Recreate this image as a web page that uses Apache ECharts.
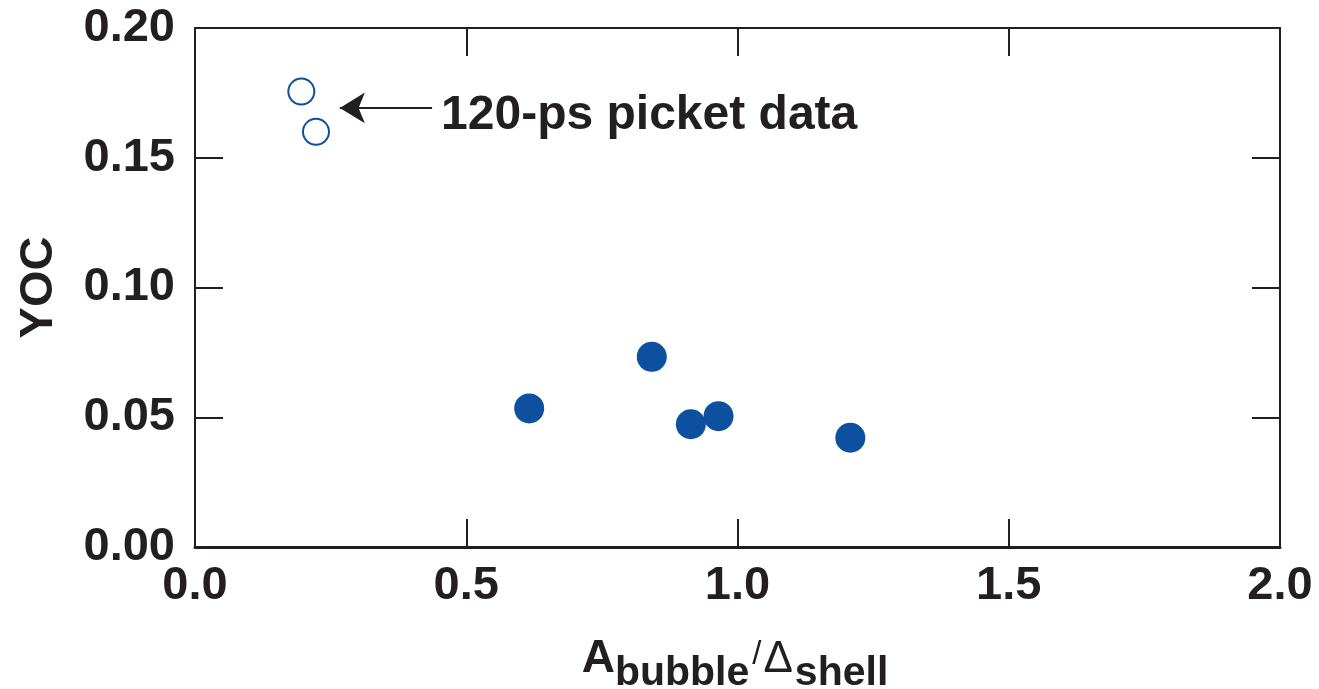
<!DOCTYPE html>
<html>
<head>
<meta charset="utf-8">
<script src="https://cdn.jsdelivr.net/npm/echarts@6/dist/echarts.min.js"></script>
<style>
  html, body { margin: 0; padding: 0; background: #fff; }
  #chart { width: 1319px; height: 689px; }
</style>
</head>
<body>
<div id="chart"></div>
<script>
// Bubble amplitude over shell thickness vs. yield-over-clean
const mainX = [0.616, 0.842, 0.914, 0.965, 1.208];
const mainY = [0.0534, 0.0733, 0.0473, 0.0504, 0.0421];

// 120-ps picket shots
const picketX = [0.196, 0.223];
const picketY = [0.1755, 0.160];

// Annotation arrow (from the text toward the picket points)
const arrowFrom = [0.437, 0.1692];
const arrowTo = [0.267, 0.1692];
const arrowText = '120-ps picket data';

const xTicks = { min: 0, max: 2.0, interval: 0.5 };
const yTicks = { min: 0, max: 0.20, interval: 0.05 };

const INK = '#231f20';
const BLUE = '#0d50a0';
const FONT = '"Liberation Sans", Arial, Helvetica, sans-serif';

const zip = (xs, ys) => xs.map((x, i) => [x, ys[i]]);

const chart = echarts.init(document.getElementById('chart'), null, { renderer: 'canvas' });

const tickStyle = { show: true, inside: true, length: 28, lineStyle: { color: INK, width: 2 } };
const frameLine = { show: true, onZero: false, lineStyle: { color: INK, width: 2 } };

chart.setOption({
  animation: false,
  backgroundColor: '#fff',
  textStyle: { fontFamily: FONT },
  grid: {
    left: 195, right: 39, top: 28, bottom: 142,
    containLabel: false,
    outerBoundsMode: 'none',
    show: false
  },
  xAxis: [
    {
      type: 'value', position: 'bottom',
      min: xTicks.min, max: xTicks.max, interval: xTicks.interval,
      axisLine: { show: true, onZero: false, lineStyle: { color: INK, width: 3 } },
      axisTick: tickStyle,
      splitLine: { show: false },
      axisLabel: {
        margin: 16, color: INK, fontSize: 47, fontWeight: 'bold', fontFamily: FONT,
        formatter: v => v.toFixed(1)
      },
      name: '{a|A}{s|bubble}{l|/}{d|\u0394}{s|shell}',
      nameLocation: 'middle',
      nameGap: 89,
      nameTextStyle: {
        color: INK, fontFamily: FONT, padding: [0, 5, 0, 0],
        rich: {
          a: { fontSize: 46, fontWeight: 'bold', lineHeight: 46, verticalAlign: 'top', color: INK, fontFamily: FONT },
          s: { fontSize: 41, fontWeight: 'bold', lineHeight: 41, verticalAlign: 'top', padding: [17, 0, 0, 0], color: INK, fontFamily: FONT },
          l: { fontSize: 33, fontWeight: 'normal', lineHeight: 33, verticalAlign: 'top', padding: [2, 2, 0, 3], color: INK, fontFamily: FONT },
          d: { fontSize: 44, fontWeight: 'normal', lineHeight: 44, verticalAlign: 'top', padding: [2, 2, 0, 0], color: INK, fontFamily: FONT }
        }
      }
    },
    {
      type: 'value', position: 'top',
      min: xTicks.min, max: xTicks.max, interval: xTicks.interval,
      axisLine: frameLine, axisTick: tickStyle,
      axisLabel: { show: false }, splitLine: { show: false }
    }
  ],
  yAxis: [
    {
      type: 'value', position: 'left',
      min: yTicks.min, max: yTicks.max, interval: yTicks.interval,
      axisLine: frameLine,
      axisTick: tickStyle,
      splitLine: { show: false },
      axisLabel: {
        margin: 20, color: INK, fontSize: 47, fontWeight: 'bold', fontFamily: FONT,
        formatter: v => v.toFixed(2)
      },
      name: 'YOC',
      nameLocation: 'middle',
      nameGap: 132,
      nameTextStyle: { color: INK, fontSize: 47, fontWeight: 'bold', fontFamily: FONT }
    },
    {
      type: 'value', position: 'right',
      min: yTicks.min, max: yTicks.max, interval: yTicks.interval,
      axisLine: frameLine, axisTick: tickStyle,
      axisLabel: { show: false }, splitLine: { show: false }
    }
  ],
  series: [
    {
      name: 'shots',
      type: 'scatter',
      data: zip(mainX, mainY),
      symbol: 'circle',
      symbolSize: 30,
      itemStyle: { color: BLUE, opacity: 1 },
      z: 3
    },
    {
      name: '120-ps picket',
      type: 'scatter',
      data: zip(picketX, picketY),
      symbol: 'circle',
      symbolSize: 26,
      itemStyle: { color: '#fff', borderColor: BLUE, borderWidth: 2, opacity: 1 },
      z: 3,
      markLine: {
        silent: true,
        symbol: ['none', 'arrow'],
        symbolSize: [23, 25],
        lineStyle: { color: INK, width: 2, type: 'solid' },
        itemStyle: { color: INK },
        label: {
          show: true, position: 'start', distance: 9,
          formatter: '{t|' + arrowText + '}',
          rich: {
            t: { color: INK, fontSize: 48, fontWeight: 'bold', fontFamily: FONT, lineHeight: 48, padding: [16, 0, 0, 0] }
          }
        },
        emphasis: { disabled: true },
        data: [[{ coord: arrowFrom }, { coord: arrowTo }]]
      }
    }
  ]
});
</script>
</body>
</html>
